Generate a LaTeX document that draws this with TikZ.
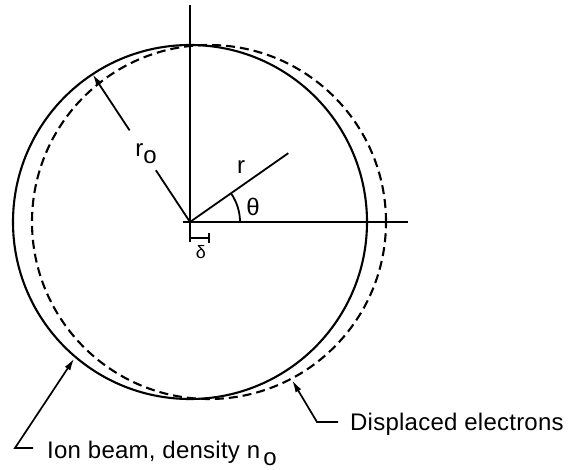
\documentclass[tikz,border=0pt]{standalone}
\usepackage{fontspec}
\setmainfont{Liberation Sans}
\newfontfamily\spacedfont[LetterSpace=1.0]{Liberation Sans}
\usetikzlibrary{arrows.meta,calc}
\begin{document}
\begin{tikzpicture}[x=1pt,y=-1pt,
  axis/.style={line width=1.8pt},
  beam/.style={line width=2.1pt},
  electrons/.style={line width=2.1pt,dash pattern=on 9pt off 5pt},
  lbl/.style={font=\fontsize{24}{28}\selectfont,inner sep=0pt},
  bottomtext/.style={font=\spacedfont\fontsize{24}{28}\selectfont,inner sep=0pt},
  lead/.style={line width=1.7pt},
  tipped/.style={-{Latex[length=12pt,width=6.5pt]}}]
\useasboundingbox (0,0) rectangle (570,470);
% centres
\coordinate (O) at (190,222);
\coordinate (D) at (209,222);
% circles
\draw[beam] (O) circle (177pt);
\draw[electrons] (D) circle (177pt);
% axes
\coordinate (vtop) at (190,5);
\coordinate (vbot) at (190,242);
\draw[axis] (vtop) -- (vbot);
\coordinate (hl) at (183,222);
\coordinate (hr) at (408,222);
\draw[axis] (hl) -- (hr);
% r line and angle
\coordinate (rend) at ($(O)+(35:120pt)$);
\draw[axis] (O) -- (rend);
\draw[axis] ($(O)+(0:50pt)$) arc[start angle=0,end angle=35,radius=50pt];
% r_o radius with arrow
\coordinate (rotip) at ($(O)+(123.4:177pt)$);
\draw[axis] (O) -- ($(O)!0.35!(rotip)$);
\draw[axis,tipped] ($(O)!0.62!(rotip)$) -- (rotip);
% delta bracket
\coordinate (d1) at (190,238);
\coordinate (d2) at (209,238);
\draw[axis] (d1) -- (d2);
\draw[axis] ($(d2)+(0,-5)$) -- ($(d2)+(0,5)$);
% labels
\node[lbl] (rlab) at (241,167) {r};
\node[lbl] (thlab) at (253,207) {θ};
\node[lbl,font=\fontsize{18}{20}\selectfont] (dlab) at (201,252) {δ};
\node[lbl] (rolab) at (146,154) {r\raisebox{-7pt}{o}};
% bottom texts
\node[bottomtext,anchor=base west] (disp) at (350,430) {Displaced electrons};
\node[bottomtext,anchor=base west] (ion) at (47,458) {Ion beam, density n\hspace{3pt}\raisebox{-7pt}{o}};
% leaders
\coordinate (dtip) at ($(D)+(297.7:179pt)$);
\coordinate (dcorner) at (317,422);
\draw[lead,tipped] ($(disp.base west)+(-12,-8)$) -- (dcorner) -- (dtip);
\coordinate (itip) at ($(O)+(229.7:179pt)$);
\coordinate (icorner) at (15,448);
\draw[lead,tipped] ($(ion.base west)+(-14,-10)$) -- (icorner) -- (itip);
\end{tikzpicture}
\end{document}
